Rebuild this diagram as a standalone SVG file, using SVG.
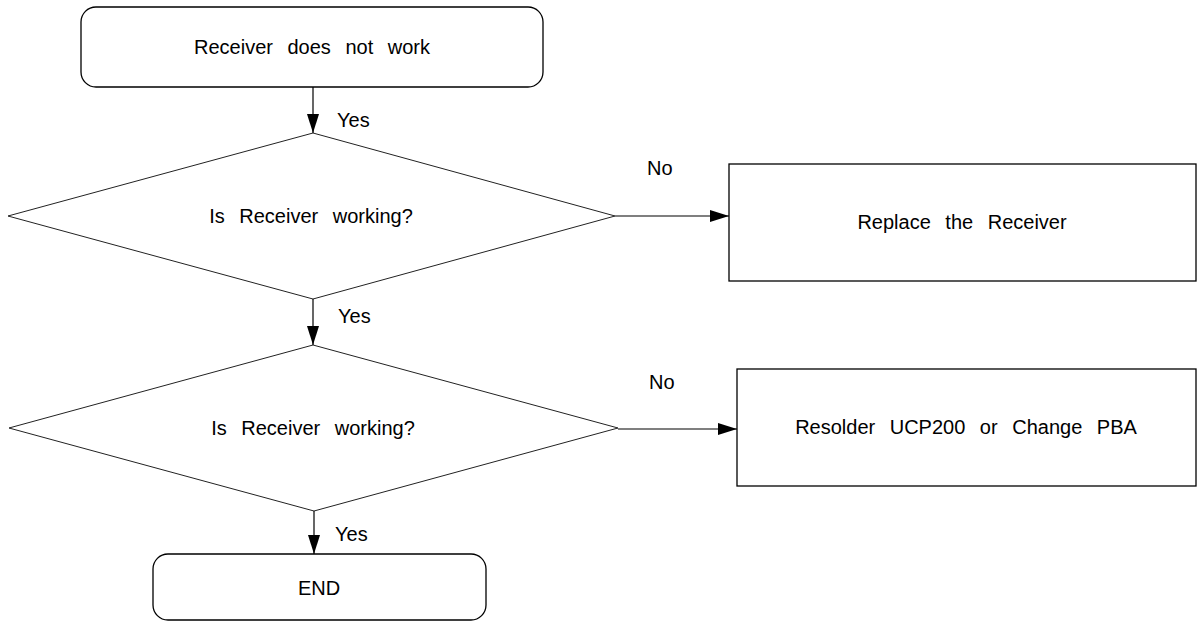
<svg xmlns="http://www.w3.org/2000/svg" width="1199" height="622" viewBox="0 0 1199 622">
<defs>
<style>
.box{fill:#fff;stroke:#000;stroke-width:1.3}
.dia{fill:#fff;stroke:#222;stroke-width:1}
.t{font-family:"Liberation Sans",Arial,sans-serif;font-size:20px;fill:#000;word-spacing:9px}
.c{text-anchor:middle}
.ln{stroke:#000;stroke-width:1.2;fill:none}
</style>
<marker id="ah" viewBox="0 0 19 12" refX="19" refY="6" markerWidth="19" markerHeight="12" markerUnits="userSpaceOnUse" orient="auto">
<path d="M0,0 L19,6 L0,12 Z" fill="#000"/>
</marker>
</defs>
<rect width="1199" height="622" fill="#fff"/>
<g id="start">
<rect class="box" x="81" y="7" width="462" height="80" rx="15"/>
<text class="t c" x="312" y="54">Receiver does not work</text>
</g>
<g id="decision1">
<polygon class="dia" points="8,216 313,133 615,216 313,299"/>
<text class="t c" x="311" y="223">Is Receiver working?</text>
</g>
<g id="replace">
<rect class="box" x="729" y="164" width="467" height="117"/>
<text class="t c" x="962" y="229">Replace the Receiver</text>
</g>
<g id="decision2">
<polygon class="dia" points="9,428 313,345 618,428 314,511"/>
<text class="t c" x="313" y="435">Is Receiver working?</text>
</g>
<g id="resolder">
<rect class="box" x="737" y="369" width="459" height="117"/>
<text class="t c" x="966" y="434">Resolder UCP200 or Change PBA</text>
</g>
<g id="end">
<rect class="box" x="153" y="554" width="333" height="66" rx="15"/>
<text class="t c" x="319" y="595">END</text>
</g>
<g id="connectors">
<line class="ln" x1="313" y1="87" x2="313" y2="133" marker-end="url(#ah)"/>
<line class="ln" x1="313" y1="299" x2="313" y2="345" marker-end="url(#ah)"/>
<line class="ln" x1="314" y1="511" x2="314" y2="554" marker-end="url(#ah)"/>
<line class="ln" x1="615" y1="216" x2="729" y2="216" marker-end="url(#ah)"/>
<line class="ln" x1="618" y1="429" x2="737" y2="429" marker-end="url(#ah)"/>
<text class="t" x="337" y="127">Yes</text>
<text class="t" x="338" y="323">Yes</text>
<text class="t" x="335" y="541">Yes</text>
<text class="t" x="647" y="175">No</text>
<text class="t" x="649" y="389">No</text>
</g>
</svg>
